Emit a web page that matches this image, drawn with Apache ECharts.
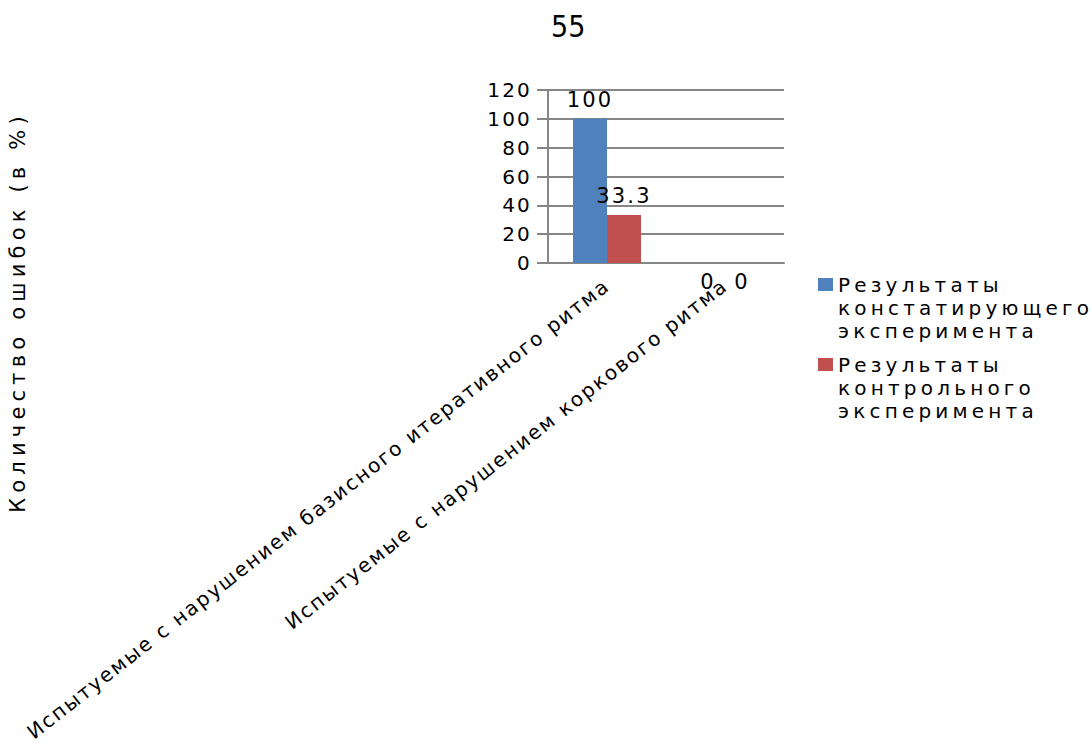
<!DOCTYPE html>
<html>
<head>
<meta charset="utf-8">
<script src="https://cdn.jsdelivr.net/npm/echarts@6.0.0/dist/echarts.min.js"></script>
<style>
  html, body { margin: 0; padding: 0; background: #ffffff; }
  #chart { width: 1092px; height: 744px; }
</style>
</head>
<body>
<div id="chart"></div>
<script>
// Chart data
const chartTitle = '55';
const axisTitle = 'Количество ошибок (в %)';
const categories = [
  'Испытуемые с нарушением базисного итеративного ритма',
  'Испытуемые с нарушением коркового ритма'
];
const seriesNames = [
  'Результаты констатирующего эксперимента',
  'Результаты контрольного эксперимента'
];
const constatValues = [100, 0];
const controlValues = [33.3, 0];
const yMin = 0;
const yMax = 120;
const yStep = 20;

const FONT = 'DejaVu Sans';
const GRID_COLOR = '#868686';
const COLORS = ['#4F81BD', '#C0504D'];

// zero-height bars carry their value label just under the axis
function barData(values) {
  return values.map(v => v === 0
    ? { value: v, label: { position: 'bottom', distance: 8 } }
    : v);
}

const barLabel = {
  show: true,
  position: 'top',
  distance: 8,
  color: '#000',
  fontFamily: FONT,
  fontSize: 21
};

const chart = echarts.init(document.getElementById('chart'), null, { renderer: 'svg' });

chart.setOption({
  animation: false,
  backgroundColor: '#ffffff',
  title: {
    text: chartTitle,
    left: 546,
    top: 6,
    textStyle: {
      fontFamily: 'DejaVu Sans Condensed, Liberation Sans',
      fontSize: 30,
      fontWeight: 'normal',
      color: '#000'
    }
  },
  legend: {
    orient: 'vertical',
    left: 813,
    top: 222,
    icon: 'rect',
    itemWidth: 15,
    itemHeight: 13,
    itemGap: -35,
    data: seriesNames,
    // two blank lines on top keep the first word level with the swatch
    formatter: name => '\n\n' + name.split(' ').join('\n'),
    textStyle: {
      fontFamily: FONT,
      fontSize: 20,
      lineHeight: 23,
      color: '#000'
    }
  },
  graphic: [{
    type: 'text',
    x: 18,
    y: 312,
    rotation: Math.PI / 2,
    style: {
      text: axisTitle,
      fontFamily: FONT,
      fontSize: 21,
      fill: '#000',
      align: 'center',
      verticalAlign: 'middle'
    }
  }],
  grid: {
    left: 548,
    right: 308,
    top: 90,
    bottom: 481,
    containLabel: false,
    outerBoundsMode: 'none'
  },
  xAxis: {
    type: 'category',
    data: categories,
    axisLine: { show: true, lineStyle: { color: GRID_COLOR, width: 2 } },
    axisTick: { show: false },
    axisLabel: {
      interval: 0,
      rotate: 38,
      margin: 20,
      color: '#000',
      fontFamily: FONT,
      fontSize: 20
    },
    splitLine: { show: false }
  },
  yAxis: {
    type: 'value',
    min: yMin,
    max: yMax,
    interval: yStep,
    axisLine: { show: true, lineStyle: { color: GRID_COLOR, width: 2 } },
    axisTick: { show: true, inside: false, length: 11, lineStyle: { color: GRID_COLOR, width: 2 } },
    axisLabel: {
      margin: 16,
      color: '#000',
      fontFamily: FONT,
      fontSize: 20
    },
    splitLine: { show: true, lineStyle: { color: GRID_COLOR, width: 2 } }
  },
  series: [
    {
      name: seriesNames[0],
      type: 'bar',
      data: barData(constatValues),
      barWidth: 34,
      barGap: '0%',
      itemStyle: { color: COLORS[0] },
      label: barLabel
    },
    {
      name: seriesNames[1],
      type: 'bar',
      data: barData(controlValues),
      barWidth: 34,
      barGap: '0%',
      itemStyle: { color: COLORS[1] },
      label: barLabel
    }
  ]
});

// widen the character spacing of the drawn texts
const legendWords = new Set(seriesNames.join(' ').split(' '));
function spacingFor(text) {
  if (text === axisTitle) return 5.2;
  if (text === chartTitle) return 0;
  if (categories.indexOf(text) >= 0) return 2;
  if (legendWords.has(text)) return 4.2;
  return 2.2;
}
function applySpacing() {
  chart.getDom().querySelectorAll('svg text').forEach(t => {
    t.style.letterSpacing = spacingFor(t.textContent) + 'px';
  });
}
applySpacing();
chart.on('finished', applySpacing);
</script>
</body>
</html>
